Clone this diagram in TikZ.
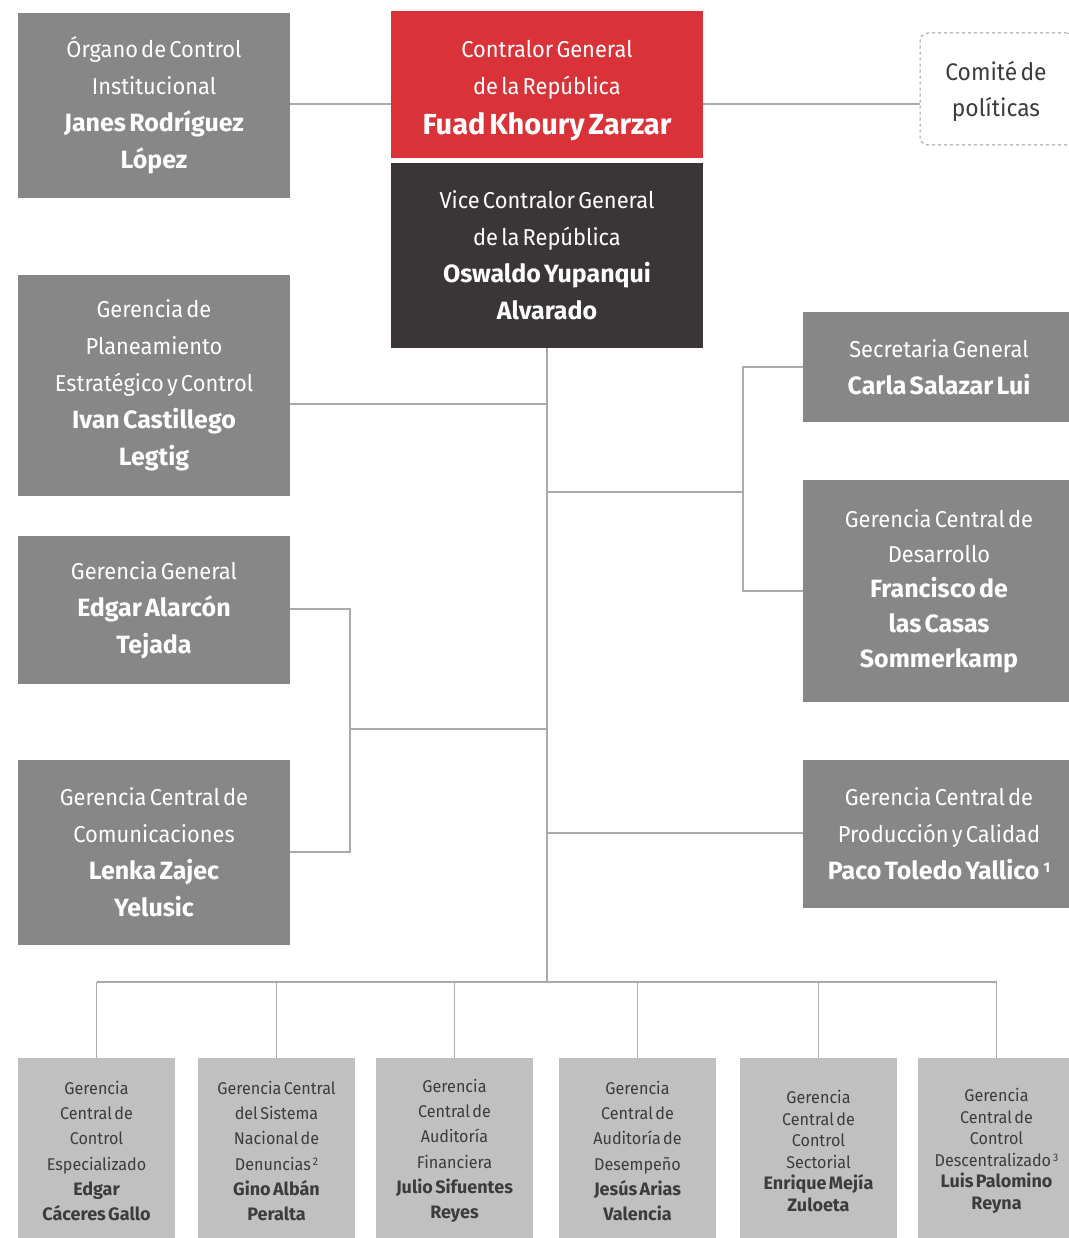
\documentclass[tikz,border=0pt]{standalone}
\usepackage{fontspec}
\setmainfont{Fira Sans}[FakeStretch=0.95, WordSpace=0.55, BoldFeatures={FakeStretch=1.0}]
\definecolor{boxgray}{HTML}{878787}
\definecolor{lightbox}{HTML}{C0C0C0}
\definecolor{redbox}{HTML}{D93239}
\definecolor{darkbox}{HTML}{3A3637}
\definecolor{linegray}{HTML}{AAAAAA}
\definecolor{darktext}{HTML}{3C3C3C}
\newcommand{\bname}[1]{{\fontsize{25}{37}\selectfont\bfseries #1}}
\newcommand{\sname}[1]{{\fontsize{18}{25}\selectfont\bfseries #1}}
\newcommand{\supnum}[1]{\hspace{2pt}\raisebox{0.3em}{\fontsize{11}{11}\selectfont #1}}
\newcommand{\bigsup}[1]{\hspace{4pt}\raisebox{0.3em}{\fontsize{14}{14}\selectfont\bfseries #1}}
\tikzset{
  box/.style={inner sep=0pt, align=center, minimum width=272, font=\fontsize{23}{37}\selectfont},
  gbox/.style={box, fill=boxgray, text=white},
  sbox/.style={inner sep=0pt, align=center, minimum width=157, minimum height=186, fill=lightbox, text=darktext, font=\fontsize{17}{25.3}\selectfont},
  sboxtight/.style={sbox, font=\fontsize{17}{21.5}\selectfont},
  conn/.style={draw=linegray, line width=1.5pt}
}
\begin{document}
\begin{tikzpicture}[x=1pt, y=-1pt]
\useasboundingbox (0,0) rectangle (1068,1238);
\fill[white] (0,0) rectangle (1068,1238);

% top row
\node[gbox, minimum height=185] (org) at (154,105.5)
  {Órgano de Control\\Institucional\\\bname{Janes Rodríguez}\\\bname{López}};
\node[box, fill=redbox, minimum width=312, minimum height=147] (cgr) at (547,84.5) {};
\node[box, text=white] (cgrtext) at ([yshift=-6.5]cgr.center)
  {Contralor General\\de la República\\[3pt]{\fontsize{29}{37}\selectfont\bfseries Fuad Khoury Zarzar}};
\node[box, draw=gray!80, dashed, rounded corners=8pt, line width=1pt,
  minimum width=155, minimum height=112] (comite) at (997.5,89) {};
\node[box, text=darktext, font=\fontsize{24}{36}\selectfont] (comitetext) at ([xshift=-1.5,yshift=-2]comite.center)
  {Comité de\\políticas};
\node[box, fill=darkbox, text=white, minimum width=312, minimum height=185] (vice) at (547,255.5)
  {Vice Contralor General\\de la República\\\bname{Oswaldo Yupanqui}\\\bname{Alvarado}};

% left column
\node[gbox, minimum height=221] (plan) at (154,385.5)
  {Gerencia de\\Planeamiento\\Estratégico y Control\\\bname{Ivan Castillego}\\\bname{Legtig}};
\node[gbox, minimum height=148] (gg) at (154,610)
  {Gerencia General\\\bname{Edgar Alarcón}\\\bname{Tejada}};
\node[gbox, minimum height=185] (com) at (154,852.5)
  {Gerencia Central de\\Comunicaciones\\\bname{Lenka Zajec}\\\bname{Yelusic}};

% right column
\node[gbox, minimum height=110] (sec) at (939,367)
  {Secretaria General\\\bname{Carla Salazar Lui}};
\node[gbox, minimum height=222, font=\fontsize{23}{35}\selectfont] (des) at (939,591)
  {Gerencia Central de\\Desarrollo\\\bname{Francisco de}\\\bname{las Casas}\\\bname{Sommerkamp}};
\node[gbox, minimum height=148] (prod) at (939,834)
  {Gerencia Central de\\Producción y Calidad\\\bname{Paco Toledo Yallico}\bigsup{1}};

% bottom row
\node[sbox] (b1) at (96.5,1151)
  {Gerencia\\Central de\\Control\\Especializado\\\sname{Edgar}\\\sname{Cáceres Gallo}};
\node[sbox] (b2) at (276.5,1151)
  {Gerencia Central\\del Sistema\\Nacional de\\Denuncias\supnum{2}\\\sname{Gino Albán}\\\sname{Peralta}};
\node[sbox] (b3) at (454.5,1151)
  {Gerencia\\Central de\\Auditoría\\Financiera\\\sname{Julio Sifuentes}\\\sname{Reyes}};
\node[sbox] (b4) at (637.5,1151)
  {Gerencia\\Central de\\Auditoría de\\Desempeño\\\sname{Jesús Arias}\\\sname{Valencia}};
\node[sboxtight] (b5) at (818.5,1151)
  {Gerencia\\Central de\\Control\\Sectorial\\\sname{Enrique Mejía}\\\sname{Zuloeta}};
\node[sboxtight] (b6) at (996.5,1151)
  {Gerencia\\Central de\\Control\\Descentralizado\supnum{3}\\\sname{Luis Palomino}\\\sname{Reyna}};

% junction coordinates
\coordinate (tplan) at (547,404);
\coordinate (tright) at (547,492);
\coordinate (rbar) at (743,492);
\coordinate (tleft) at (547,729);
\coordinate (lbar) at (350,729);
\coordinate (tprod) at (547,833);
\coordinate (bus) at (547,982);
\coordinate (topline) at (547,104);

% connectors
\draw[conn] (org.east |- topline) -- (cgr.west |- topline);
\draw[conn] (cgr.east |- topline) -- (comite.west |- topline);
\draw[conn] (vice.south) -- (bus);
\draw[conn] (plan.east |- tplan) -- (tplan);
\draw[conn] (tright) -- (rbar);
\draw[conn] (sec.west |- 0,367) -- (743,367) -- (743,591) -- (des.west |- 0,591);
\draw[conn] (tleft) -- (lbar);
\draw[conn] (gg.east |- 0,609) -- (350,609) -- (350,852) -- (com.east |- 0,852);
\draw[conn] (tprod) -- (prod.west |- tprod);
\draw[conn] (b1.north |- bus) -- (b6.north |- bus);
\foreach \b in {b1,b2,b3,b4,b5,b6} \draw[conn] (\b.north |- bus) -- (\b.north);
\end{tikzpicture}
\end{document}
